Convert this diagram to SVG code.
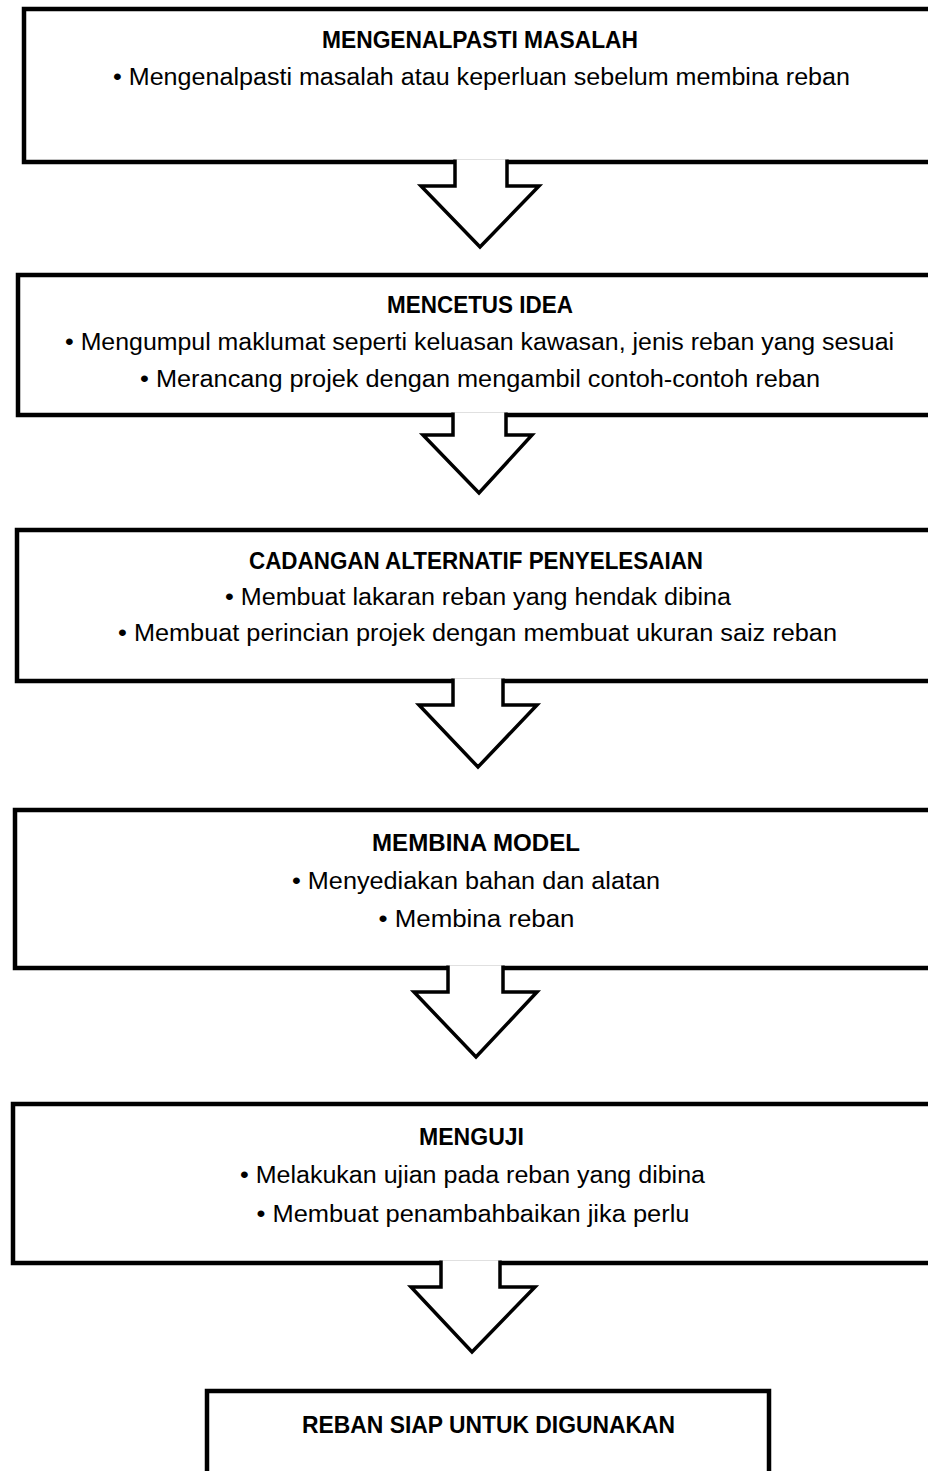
<svg xmlns="http://www.w3.org/2000/svg" width="928" height="1471" viewBox="0 0 928 1471">
<style>
.box{fill:#fff;stroke:#000;stroke-width:4.5}
.arr{fill:#fff;stroke:#000;stroke-width:3.5;stroke-linejoin:miter}
.t{font-family:"Liberation Sans",Arial,sans-serif;font-size:23px;font-weight:bold;fill:#000;text-anchor:middle}
.b{font-family:"Liberation Sans",Arial,sans-serif;font-size:23px;fill:#000;text-anchor:middle}
</style>
<rect width="928" height="1471" fill="#fff"/>
<g id="n1">
<rect class="box" x="24" y="9" width="920" height="153"/>
<text class="t" x="480" y="48" textLength="316" lengthAdjust="spacingAndGlyphs">MENGENALPASTI MASALAH</text>
<text class="b" x="481.5" y="85" textLength="737" lengthAdjust="spacingAndGlyphs">• Mengenalpasti masalah atau keperluan sebelum membina reban</text>
</g>
<g id="n2">
<rect class="box" x="18" y="275" width="926" height="140"/>
<text class="t" x="480" y="313" textLength="186" lengthAdjust="spacingAndGlyphs">MENCETUS IDEA</text>
<text class="b" x="479.5" y="350" textLength="829" lengthAdjust="spacingAndGlyphs">• Mengumpul maklumat seperti keluasan kawasan, jenis reban yang sesuai</text>
<text class="b" x="480" y="387" textLength="680" lengthAdjust="spacingAndGlyphs">• Merancang projek dengan mengambil contoh-contoh reban</text>
</g>
<g id="n3">
<rect class="box" x="17" y="530" width="927" height="151"/>
<text class="t" x="476" y="569" textLength="454" lengthAdjust="spacingAndGlyphs">CADANGAN ALTERNATIF PENYELESAIAN</text>
<text class="b" x="478" y="605" textLength="506" lengthAdjust="spacingAndGlyphs">• Membuat lakaran reban yang hendak dibina</text>
<text class="b" x="477.5" y="641" textLength="719" lengthAdjust="spacingAndGlyphs">• Membuat perincian projek dengan membuat ukuran saiz reban</text>
</g>
<g id="n4">
<rect class="box" x="15" y="810" width="929" height="158"/>
<text class="t" x="476" y="851" textLength="208" lengthAdjust="spacingAndGlyphs">MEMBINA MODEL</text>
<text class="b" x="476" y="889" textLength="368" lengthAdjust="spacingAndGlyphs">• Menyediakan bahan dan alatan</text>
<text class="b" x="476.5" y="927" textLength="196" lengthAdjust="spacingAndGlyphs">• Membina reban</text>
</g>
<g id="n5">
<rect class="box" x="13" y="1104" width="931" height="159"/>
<text class="t" x="471.5" y="1145" textLength="105" lengthAdjust="spacingAndGlyphs">MENGUJI</text>
<text class="b" x="472.5" y="1183" textLength="465" lengthAdjust="spacingAndGlyphs">• Melakukan ujian pada reban yang dibina</text>
<text class="b" x="473" y="1222" textLength="433" lengthAdjust="spacingAndGlyphs">• Membuat penambahbaikan jika perlu</text>
</g>
<g id="n6">
<rect class="box" x="207" y="1391" width="562" height="100"/>
<text class="t" x="488.5" y="1433" textLength="373" lengthAdjust="spacingAndGlyphs">REBAN SIAP UNTUK DIGUNAKAN</text>
</g>
<g id="connectors">
<path class="arr" d="M455,159.5 L455,186 L421,186 L480,247 L539,186 L507,186 L507,159.5"/>
<path class="arr" d="M453,412.5 L453,435 L423,435 L479,493 L532,435 L506,435 L506,412.5"/>
<path class="arr" d="M453,678.5 L453,705 L419,705 L478,767 L537,705 L503,705 L503,678.5"/>
<path class="arr" d="M448,965.5 L448,992 L414,992 L476,1057 L537,992 L503,992 L503,965.5"/>
<path class="arr" d="M441,1260.5 L441,1287 L411,1287 L472,1352 L535,1287 L500,1287 L500,1260.5"/>
</g>
</svg>
